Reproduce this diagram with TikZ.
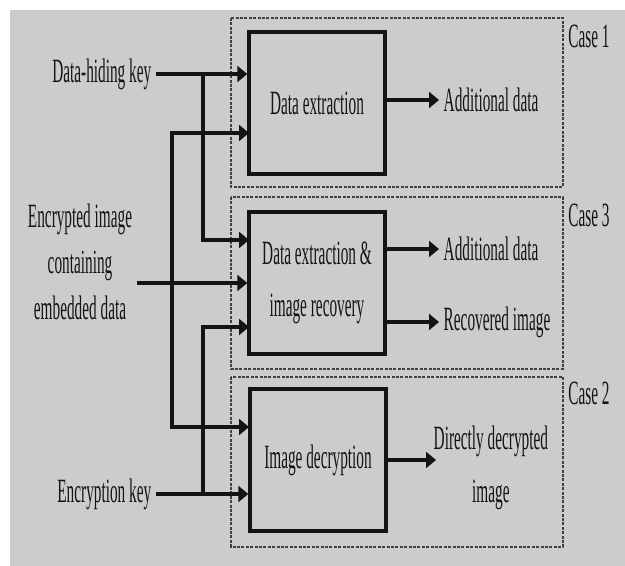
\documentclass[tikz,border=0pt]{standalone}
\usepackage{fontspec}
\usepackage{xcolor}
\usepackage{tikz}
\usetikzlibrary{arrows.meta}
\newfontfamily\narrowserif[FakeStretch=0.45]{Liberation Serif}
\definecolor{paper}{HTML}{CCCCCC}
\definecolor{ink}{HTML}{141414}
\definecolor{dots}{HTML}{404040}

\begin{document}
\begin{tikzpicture}[x=0.5pt, y=-0.5pt, line width=1.7pt, ink,
    txt/.style={font=\narrowserif\fontsize{17}{23}\selectfont, inner sep=1.5pt, align=center},
    blockbox/.style={draw, line width=1.7pt, minimum width=68pt, minimum height=71pt, inner sep=0pt,
      align=center, font=\narrowserif\fontsize{17}{26}\selectfont},
    frame/.style={draw=dots, line width=1.1pt, dash pattern=on 1.5pt off 0.7pt},
    flow/.style={-{Triangle[length=5pt, width=8pt]}, line width=1.8pt}]
    \useasboundingbox (0,0) rectangle (625,566);
    \fill[white] (0,0) rectangle (625,566);
    \fill[paper] (10,10) rectangle (625,566);

    \draw[frame] (231,18) rectangle (563,187);
    \draw[frame] (231,197) rectangle (563,369);
    \draw[frame] (231,377) rectangle (563,547);
    \node[txt] (case1) at (589,36) {Case 1};
    \node[txt] (case3) at (589,215) {Case 3};
    \node[txt] (case2) at (589,393) {Case 2};

    \node[blockbox] (box1) at (317,103) {Data extraction};
    \node[blockbox] (box3) at (317,283) {Data extraction \&\\image recovery};
    \node[blockbox] (box2) at (318,460) {Image decryption};

    \node[txt, anchor=east] (hidekey) at (156,74) {Data-hiding key};
    \node[txt] (encimg) at (80,262) {Encrypted image\\containing\\embedded data};
    \node[txt, anchor=east] (enckey) at (156,494) {Encryption key};

    \coordinate (kbus) at (203,0);
    \coordinate (ibus) at (172,0);
    \coordinate (in1) at (249,133);
    \coordinate (in3a) at (249,240);
    \coordinate (in3c) at (249,327);
    \coordinate (in2) at (249,427);

    \draw[flow] (hidekey.east) -- (hidekey.east -| box1.west);
    \draw[flow] (hidekey.east -| kbus) |- (in3a);
    \draw[flow] (in1 -| ibus) |- (in2);
    \draw[flow] (in2 -| ibus) |- (in1);
    \draw[flow] (encimg.east |- box3.west) -- (box3.west);
    \draw[flow] (enckey.east) -- (enckey.east -| box2.west);
    \draw[flow] (enckey.east -| kbus) |- (in3c);

    \node[txt, anchor=west] (adddata1) at (439,100) {Additional data};
    \node[txt, anchor=west] (adddata3) at (439,249) {Additional data};
    \node[txt, anchor=west] (recimg) at (439,322) {Recovered image};
    \node[txt, anchor=west, font=\narrowserif\fontsize{17}{26.5}\selectfont] (decimg) at (429,468)
      {Directly decrypted\\image};

    \draw[flow] (box1.east |- adddata1) -- (adddata1.west);
    \draw[flow] (box3.east |- adddata3) -- (adddata3.west);
    \draw[flow] (box3.east |- recimg) -- (recimg.west);
    \draw[flow, shorten >=-3.5pt] (box2.east) -- (box2.east -| decimg.west);
\end{tikzpicture}
\end{document}
